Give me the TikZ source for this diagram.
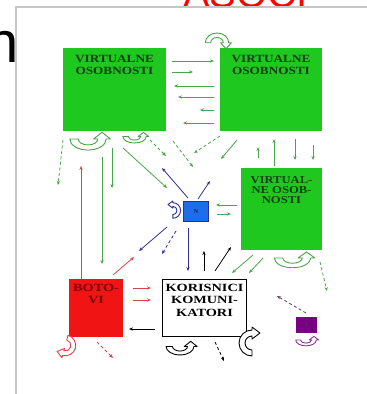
\documentclass[tikz,border=0pt]{standalone}
\usepackage{fontspec}
\setmainfont{Liberation Serif}
\newfontfamily\sansf{Liberation Sans}
\usetikzlibrary{arrows.meta}
\definecolor{gfill}{RGB}{30,200,30}
\definecolor{gtext}{RGB}{15,60,15}
\definecolor{garr}{RGB}{70,165,70}
\definecolor{barr}{RGB}{45,45,150}
\definecolor{bfill}{RGB}{30,110,235}
\definecolor{rfill}{RGB}{240,20,20}
\definecolor{rtext}{RGB}{120,0,0}
\definecolor{rarr}{RGB}{215,70,70}
\definecolor{pfill}{RGB}{120,0,130}
\definecolor{parr}{RGB}{90,60,90}
\definecolor{pcurl}{RGB}{140,50,150}
\newcommand{\wtxt}[2][1.2]{\scalebox{#1}[1]{#2}}
\begin{document}
\begin{tikzpicture}[x=1pt,y=-1pt,
  gbox/.style={fill=gfill, inner sep=0pt, outer sep=0pt},
  btxt/.style={font=\bfseries\fontsize{11}{11.5}\selectfont, align=center, inner sep=0pt, anchor=north},
  arr/.style={line width=0.8pt, -{Stealth[length=4pt,width=3.2pt]}},
  dsh/.style={dash pattern=on 3pt off 2.5pt},
  ga/.style={arr, draw=garr},
  ba/.style={arr, draw=barr},
  ra/.style={arr, draw=rarr},
  ka/.style={arr, draw=black},
  pa/.style={arr, draw=parr},
  uturn/.pic={
    \draw[pic actions, fill=white, line join=round]
      (-1.3,0) arc[start angle=180, end angle=0, radius=1.3]
      -- (1.6,0) -- (1,-0.8) -- (0.4,0) -- (0.7,0)
      arc[start angle=0, end angle=180, radius=0.7] -- cycle;
  }
]
\useasboundingbox (0,0) rectangle (367,394);

% cut-off slide texts
\begin{scope}
  \clip (0,0) rectangle (367,394);
  \node[anchor=base west, text=red, font=\sansf\fontsize{40}{40}\selectfont, inner sep=0pt] (ttl) at (183,7) {ASOCI};
\end{scope}
\begin{scope}
  \clip (0,0) rectangle (15,394);
  \node[anchor=base east, font=\sansf\fontsize{58}{58}\selectfont, inner sep=0pt] (nn) at (19,62) {n};
\end{scope}

% frame
\coordinate (fr1) at (16,394); \coordinate (fr2) at (16,7); \coordinate (fr3) at (367,7);
\draw[gray!45, line width=1.6pt] (fr1) -- (fr2) -- (fr3);

% boxes
\node[gbox, minimum width=103pt, minimum height=83pt] (v1) at (114.5,89.5) {};
\node[gbox, minimum width=102pt, minimum height=83pt] (v2) at (271,89.5) {};
\node[gbox, minimum width=81pt, minimum height=82pt] (v3) at (281.5,209) {};
\node[fill=bfill, draw=barr, line width=0.8pt, minimum width=25pt, minimum height=20pt, inner sep=0pt] (n) at (196,211.5) {\fontsize{6}{6}\selectfont\bfseries\color{barr!60!black}N};
\node[fill=rfill, minimum width=54pt, minimum height=58pt, inner sep=0pt] (bot) at (96,308) {};
\node[fill=white, draw=black, line width=1.2pt, minimum width=84pt, minimum height=57pt, inner sep=0pt] (kor) at (204.5,308) {};
\node[fill=pfill, minimum width=21pt, minimum height=16pt, inner sep=0pt] (one) at (306.5,325) {\fontsize{5}{5}\selectfont\color{black!70}1};

% box texts
\node[btxt, text=gtext] (v1t) at ([yshift=-7.5pt]v1.north) {\wtxt{VIRTUALNE}\\\wtxt{OSOBNOSTI}};
\node[btxt, text=gtext] (v2t) at ([yshift=-7.5pt]v2.north) {\wtxt{VIRTUALNE}\\\wtxt{OSOBNOSTI}};
\node[btxt, text=gtext, font=\bfseries\fontsize{10.5}{10}\selectfont] (v3t) at ([yshift=-8pt]v3.north) {\wtxt{VIRTUAL-}\\\wtxt{NE OSOB-}\\\wtxt{NOSTI}};
\node[btxt, text=rtext, font=\bfseries\fontsize{11}{12}\selectfont] (bott) at ([yshift=-5pt]bot.north) {\wtxt[1.3]{BOTO-}\\\wtxt[1.3]{VI}};
\node[btxt, text=black, font=\bfseries\fontsize{11}{12.5}\selectfont] (kort) at ([yshift=-5pt]kor.north) {\wtxt[1.3]{KORISNICI}\\\wtxt[1.3]{KOMUNI-}\\\wtxt[1.3]{KATORI}};

% arrows between top boxes
\coordinate (h1a) at (172,61);  \coordinate (h1b) at (214,61);
\coordinate (h2a) at (172,72);  \coordinate (h2b) at (193,72);
\coordinate (h3a) at (214,86);  \coordinate (h3b) at (174,86);
\coordinate (h4a) at (214,97);  \coordinate (h4b) at (178,97);
\coordinate (h5a) at (214,110); \coordinate (h5b) at (200,110);
\coordinate (h6a) at (214,123); \coordinate (h6b) at (183,123);
\draw[ga] (h1a) -- (h1b);
\draw[ga] (h2a) -- (h2b);
\draw[ga] (h3a) -- (h3b);
\draw[ga] (h4a) -- (h4b);
\draw[ga] (h5a) -- (h5b);
\draw[ga] (h6a) -- (h6b);

% green arrows
\coordinate (a1s) at (63,140);  \coordinate (a1e) at (58,185);
\coordinate (a2s) at (102,157); \coordinate (a2e) at (102,264);
\coordinate (a3s) at (112,148); \coordinate (a3e) at (112,188);
\coordinate (a4s) at (123,148); \coordinate (a4e) at (167,188);
\coordinate (a5s) at (150,140); \coordinate (a5e) at (166,156);
\coordinate (a6s) at (173,141); \coordinate (a6e) at (193,167);
\coordinate (a7s) at (220,136); \coordinate (a7e) at (194,153);
\coordinate (a8s) at (237,140); \coordinate (a8e) at (221,159);
\coordinate (a9s) at (258,158); \coordinate (a9e) at (258,147);
\coordinate (a10s) at (274,166); \coordinate (a10e) at (274,139);
\coordinate (a11s) at (295,139); \coordinate (a11e) at (295,160);
\coordinate (a12s) at (313,145); \coordinate (a12e) at (313,160);
\coordinate (a13s) at (237,205); \coordinate (a13e) at (216,205);
\coordinate (a14s) at (217,214); \coordinate (a14e) at (231,214);
\coordinate (a15s) at (253,255); \coordinate (a15e) at (232,273);
\coordinate (a16s) at (263,258); \coordinate (a16e) at (249,273);
\coordinate (a17s) at (320,262); \coordinate (a17e) at (327,291);
\draw[ga, dsh] (a1s) -- (a1e);
\draw[ga] (a2s) -- (a2e);
\draw[ga] (a3s) -- (a3e);
\draw[ga] (a4s) -- (a4e);
\draw[ga, dsh] (a5s) -- (a5e);
\draw[ga, dsh] (a6s) -- (a6e);
\draw[ga, dsh] (a7s) -- (a7e);
\draw[ga] (a8s) -- (a8e);
\draw[ga] (a9s) -- (a9e);
\draw[ga] (a10s) -- (a10e);
\draw[ga] (a11s) -- (a11e);
\draw[ga] (a12s) -- (a12e);
\draw[ga] (a13s) -- (a13e);
\draw[ga] (a14s) -- (a14e);
\draw[ga] (a15s) -- (a15e);
\draw[ga] (a16s) -- (a16e);
\draw[ga, dsh] (a17s) -- (a17e);

% blue arrows
\coordinate (b1s) at (188,198); \coordinate (b1e) at (162,168);
\coordinate (b2s) at (198,199); \coordinate (b2e) at (210,181);
\coordinate (b3s) at (167,227); \coordinate (b3e) at (139,251);
\coordinate (b4s) at (176,231); \coordinate (b4e) at (162,254);
\coordinate (b5s) at (188,228); \coordinate (b5e) at (188,271);
\draw[ba] (b1s) -- (b1e);
\draw[ba] (b2s) -- (b2e);
\draw[ba] (b3s) -- (b3e);
\draw[ba, dsh] (b4s) -- (b4e);
\draw[ba] (b5s) -- (b5e);

% red arrows
\coordinate (r1s) at (81,279);  \coordinate (r1e) at (81,166);
\coordinate (r2s) at (113,275); \coordinate (r2e) at (134,257);
\coordinate (r3s) at (133,288); \coordinate (r3e) at (151,288);
\coordinate (r4s) at (133,300); \coordinate (r4e) at (151,300);
\coordinate (r5s) at (97,342);  \coordinate (r5e) at (113,358);
\draw[ra] (r1s) -- (r1e);
\draw[ra] (r2s) -- (r2e);
\draw[ra] (r3s) -- (r3e);
\draw[ra] (r4s) -- (r4e);
\draw[ra, dsh] (r5s) -- (r5e);

% black arrows
\coordinate (k1s) at (155,329); \coordinate (k1e) at (129,329);
\coordinate (k2s) at (204,271); \coordinate (k2e) at (204,251);
\coordinate (k3s) at (215,271); \coordinate (k3e) at (231,247);
\coordinate (k4s) at (215,342); \coordinate (k4e) at (224,361);
\draw[ka] (k1s) -- (k1e);
\draw[ka] (k2s) -- (k2e);
\draw[ka] (k3s) -- (k3e);
\draw[ka, dsh] (k4s) -- (k4e);

% purple dashed
\coordinate (p1s) at (306,313); \coordinate (p1e) at (277,296);
\draw[pa, dsh] (p1s) -- (p1e);

% u-turn arrows
\pic[draw=garr, line width=0.9pt, xscale=14, yscale=8.5] (c1) at (88,139) {uturn};
\pic[draw=garr, line width=0.9pt, xscale=9, yscale=5] (c2) at (134.5,136.5) {uturn};
\pic[draw=garr, line width=0.9pt, xscale=9, yscale=-7.5] (c3) at (217,42.75) {uturn};
\pic[draw=barr, line width=0.9pt, rotate=90, scale=6] (c4) at (172.8,210.5) {uturn};
\pic[draw=garr, line width=0.9pt, xscale=14, yscale=7.5] (c5) at (292.5,258) {uturn};
\pic[draw=rarr, line width=0.9pt, rotate=75, xscale=-8, yscale=8] (c6) at (65.3,345.4) {uturn};
\pic[draw=black, line width=0.9pt, xscale=10.7, yscale=6.5] (c7) at (180,346.5) {uturn};
\pic[draw=black, line width=0.9pt, rotate=-90, xscale=-10, yscale=10] (c8) at (252,343) {uturn};
\pic[draw=pcurl, line width=0.9pt, xscale=7.9, yscale=4.5] (c9) at (306,340) {uturn};

\end{tikzpicture}
\end{document}
